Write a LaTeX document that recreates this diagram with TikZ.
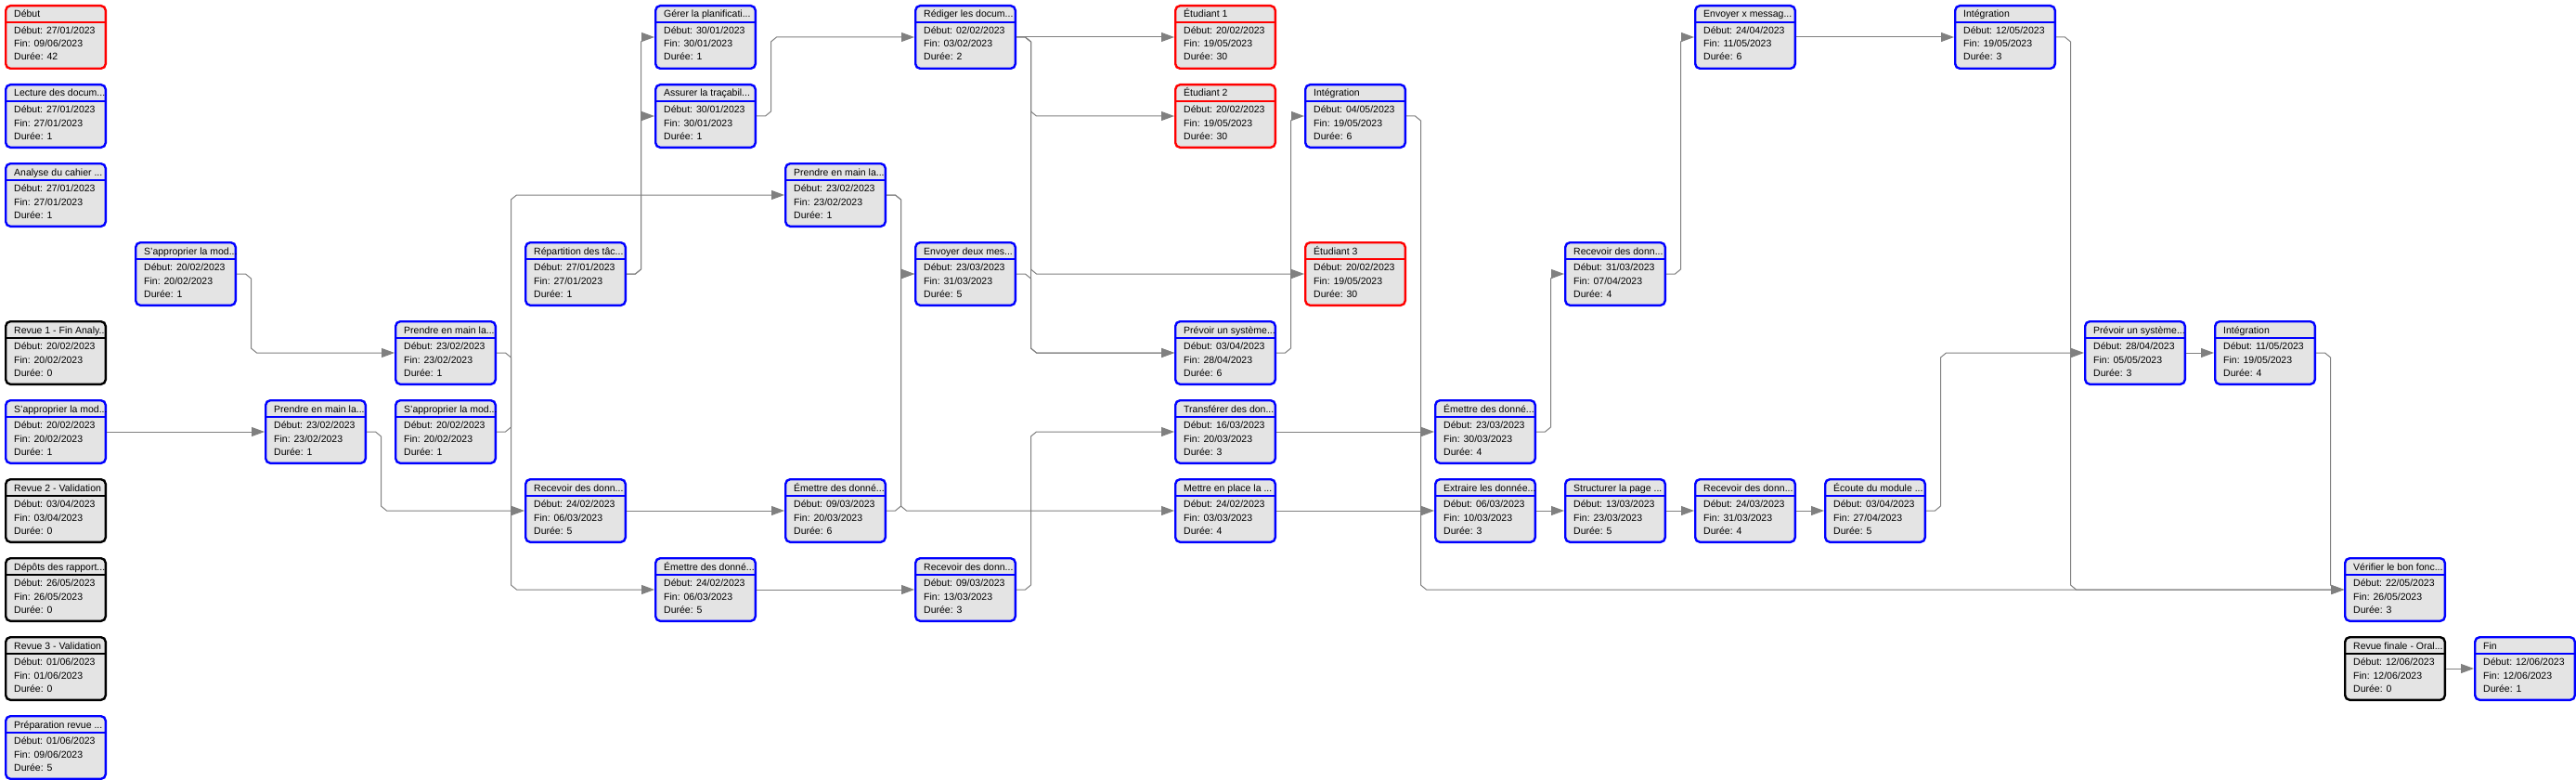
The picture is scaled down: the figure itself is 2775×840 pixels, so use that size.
\documentclass[tikz,border=0pt]{standalone}
\usepackage{fontspec}
\setmainfont{Liberation Sans}
\usetikzlibrary{arrows.meta,calc}
\definecolor{boxfill}{RGB}{228,228,228}
\definecolor{lnk}{RGB}{128,128,128}
\definecolor{bblue}{RGB}{0,0,255}
\definecolor{bred}{RGB}{255,0,0}
\tikzset{
  box/.style={rectangle, rounded corners=5pt, fill=boxfill, line width=2.4pt, minimum width=107.6pt, minimum height=67.6pt, inner sep=0pt},
  sepline/.style={line width=1.3pt},
  txt/.style={anchor=base west, inner sep=0pt, font=\fontsize{10.5}{12}\selectfont, text=black},
  conn/.style={draw=lnk, line width=1pt, -{Triangle[length=14pt,width=10pt]}},
}
\newcommand\mktask[8]{%
  \node[box, draw=#4] (#1) at ({60+140*#2},{40+85*#3}) {};
  \draw[sepline, draw=#4] ([yshift=-19pt]#1.north west) -- ([yshift=-19pt]#1.north east);
  \node[txt] (#1-a) at ({15+140*#2},{19+85*#3}) {#5};
  \node[txt] (#1-b) at ({15+140*#2},{36.5+85*#3}) {Début: #6};
  \node[txt] (#1-c) at ({15+140*#2},{51+85*#3}) {Fin: #7};
  \node[txt] (#1-d) at ({15+140*#2},{65+85*#3}) {Durée: #8};
}
\newcommand\rdown[2]{\draw[conn] let \p1=(#1.east), \p2=(#2.west) in (\p1) -- ++(9.5pt,0pt) -- ++(6pt,-5pt) -- (\x1+15.5pt,\y2+5pt) -- ++(6pt,-5pt) -- (\p2);}
\newcommand\rup[2]{\draw[conn] let \p1=(#1.east), \p2=(#2.west) in (\p1) -- ++(9.5pt,0pt) -- ++(6pt,5pt) -- (\x1+15.5pt,\y2-5pt) -- ++(6pt,5pt) -- (\p2);}
\newcommand\straight[2]{\draw[conn] (#1.east) -- (#2.west);}
\begin{document}
\begin{tikzpicture}[x=1pt,y=-1pt]
\useasboundingbox (0,0) rectangle (2775,840);
\fill[white] (0,0) rectangle (2775,840);
\mktask{c0r0}{0}{0}{bred}{Début}{27/01/2023}{09/06/2023}{42}
\mktask{c0r1}{0}{1}{bblue}{Lecture des docum...}{27/01/2023}{27/01/2023}{1}
\mktask{c0r2}{0}{2}{bblue}{Analyse du cahier ...}{27/01/2023}{27/01/2023}{1}
\mktask{c0r4}{0}{4}{black}{Revue 1 - Fin Analy...}{20/02/2023}{20/02/2023}{0}
\mktask{c0r5}{0}{5}{bblue}{S'approprier la mod...}{20/02/2023}{20/02/2023}{1}
\mktask{c0r6}{0}{6}{black}{Revue 2 - Validation}{03/04/2023}{03/04/2023}{0}
\mktask{c0r7}{0}{7}{black}{Dépôts des rapport...}{26/05/2023}{26/05/2023}{0}
\mktask{c0r8}{0}{8}{black}{Revue 3 - Validation}{01/06/2023}{01/06/2023}{0}
\mktask{c0r9}{0}{9}{bblue}{Préparation revue ...}{01/06/2023}{09/06/2023}{5}
\mktask{c1r3}{1}{3}{bblue}{S'approprier la mod...}{20/02/2023}{20/02/2023}{1}
\mktask{c2r5}{2}{5}{bblue}{Prendre en main la...}{23/02/2023}{23/02/2023}{1}
\mktask{c3r4}{3}{4}{bblue}{Prendre en main la...}{23/02/2023}{23/02/2023}{1}
\mktask{c3r5}{3}{5}{bblue}{S'approprier la mod...}{20/02/2023}{20/02/2023}{1}
\mktask{c4r3}{4}{3}{bblue}{Répartition des tâc...}{27/01/2023}{27/01/2023}{1}
\mktask{c4r6}{4}{6}{bblue}{Recevoir des donn...}{24/02/2023}{06/03/2023}{5}
\mktask{c5r0}{5}{0}{bblue}{Gérer la planificati...}{30/01/2023}{30/01/2023}{1}
\mktask{c5r1}{5}{1}{bblue}{Assurer la traçabil...}{30/01/2023}{30/01/2023}{1}
\mktask{c5r7}{5}{7}{bblue}{Émettre des donné...}{24/02/2023}{06/03/2023}{5}
\mktask{c6r2}{6}{2}{bblue}{Prendre en main la...}{23/02/2023}{23/02/2023}{1}
\mktask{c6r6}{6}{6}{bblue}{Émettre des donné...}{09/03/2023}{20/03/2023}{6}
\mktask{c7r0}{7}{0}{bblue}{Rédiger les docum...}{02/02/2023}{03/02/2023}{2}
\mktask{c7r3}{7}{3}{bblue}{Envoyer deux mes...}{23/03/2023}{31/03/2023}{5}
\mktask{c7r7}{7}{7}{bblue}{Recevoir des donn...}{09/03/2023}{13/03/2023}{3}
\mktask{c9r0}{9}{0}{bred}{Étudiant 1}{20/02/2023}{19/05/2023}{30}
\mktask{c9r1}{9}{1}{bred}{Étudiant 2}{20/02/2023}{19/05/2023}{30}
\mktask{c9r4}{9}{4}{bblue}{Prévoir un système...}{03/04/2023}{28/04/2023}{6}
\mktask{c9r5}{9}{5}{bblue}{Transférer des don...}{16/03/2023}{20/03/2023}{3}
\mktask{c9r6}{9}{6}{bblue}{Mettre en place la ...}{24/02/2023}{03/03/2023}{4}
\mktask{c10r1}{10}{1}{bblue}{Intégration}{04/05/2023}{19/05/2023}{6}
\mktask{c10r3}{10}{3}{bred}{Étudiant 3}{20/02/2023}{19/05/2023}{30}
\mktask{c11r5}{11}{5}{bblue}{Émettre des donné...}{23/03/2023}{30/03/2023}{4}
\mktask{c11r6}{11}{6}{bblue}{Extraire les donnée...}{06/03/2023}{10/03/2023}{3}
\mktask{c12r3}{12}{3}{bblue}{Recevoir des donn...}{31/03/2023}{07/04/2023}{4}
\mktask{c12r6}{12}{6}{bblue}{Structurer la page ...}{13/03/2023}{23/03/2023}{5}
\mktask{c13r0}{13}{0}{bblue}{Envoyer x messag...}{24/04/2023}{11/05/2023}{6}
\mktask{c13r6}{13}{6}{bblue}{Recevoir des donn...}{24/03/2023}{31/03/2023}{4}
\mktask{c14r6}{14}{6}{bblue}{Écoute du module ...}{03/04/2023}{27/04/2023}{5}
\mktask{c15r0}{15}{0}{bblue}{Intégration}{12/05/2023}{19/05/2023}{3}
\mktask{c16r4}{16}{4}{bblue}{Prévoir un système...}{28/04/2023}{05/05/2023}{3}
\mktask{c17r4}{17}{4}{bblue}{Intégration}{11/05/2023}{19/05/2023}{4}
\mktask{c18r7}{18}{7}{bblue}{Vérifier le bon fonc...}{22/05/2023}{26/05/2023}{3}
\mktask{c18r8}{18}{8}{black}{Revue finale - Oral...}{12/06/2023}{12/06/2023}{0}
\mktask{c19r8}{19}{8}{bblue}{Fin}{12/06/2023}{12/06/2023}{1}
\straight{c0r5}{c2r5}
\rdown{c1r3}{c3r4}
\rdown{c2r5}{c4r6}
\rdown{c3r4}{c5r7}
\rup{c3r5}{c6r2}
\rup{c4r3}{c5r0}
\rup{c4r3}{c5r1}
\straight{c4r6}{c6r6}
\rup{c5r1}{c7r0}
\straight{c5r7}{c7r7}
\rdown{c6r2}{c7r3}
\rdown{c6r2}{c9r6}
\rup{c6r6}{c7r3}
\straight{c7r0}{c9r0}
\rdown{c7r0}{c9r1}
\rdown{c7r0}{c10r3}
\rdown{c7r0}{c9r4}
\rdown{c7r3}{c9r4}
\rup{c7r7}{c9r5}
\rup{c9r4}{c10r1}
\straight{c9r5}{c11r5}
\straight{c9r6}{c11r6}
\rdown{c10r1}{c18r7}
\rup{c11r5}{c12r3}
\straight{c11r6}{c12r6}
\rup{c12r3}{c13r0}
\straight{c12r6}{c13r6}
\straight{c13r0}{c15r0}
\straight{c13r6}{c14r6}
\rup{c14r6}{c16r4}
\rdown{c15r0}{c18r7}
\straight{c16r4}{c17r4}
\rdown{c17r4}{c18r7}
\straight{c18r8}{c19r8}
\end{tikzpicture}
\end{document}
